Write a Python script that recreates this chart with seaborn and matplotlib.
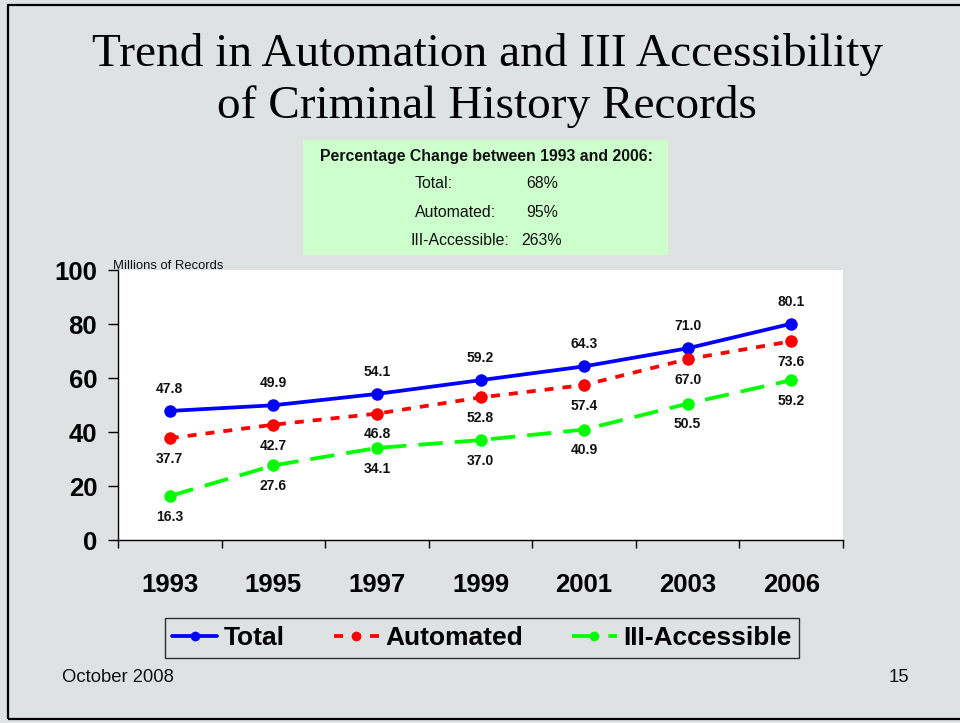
import matplotlib
matplotlib.use("Agg")
import matplotlib.pyplot as plt
from matplotlib.patches import Rectangle
import seaborn as sns
import pandas as pd

years = ["1993", "1995", "1997", "1999", "2001", "2003", "2006"]
total = [47.8, 49.9, 54.1, 59.2, 64.3, 71.0, 80.1]
automated = [37.7, 42.7, 46.8, 52.8, 57.4, 67.0, 73.6]
iii_accessible = [16.3, 27.6, 34.1, 37.0, 40.9, 50.5, 59.2]
series_names = ["Total", "Automated", "III-Accessible"]
pct_labels = ["Total:", "Automated:", "III-Accessible:"]
pct_values = ["68%", "95%", "263%"]

sns.set_theme(style="white")
plt.rcParams["font.family"] = ["Liberation Sans", "DejaVu Sans"]
plt.rcParams["text.color"] = "black"
plt.rcParams["xtick.color"] = "black"
plt.rcParams["ytick.color"] = "black"

BG = "#dfe2e3"
W, H = 960, 723
fig = plt.figure(figsize=(9.6, 7.23), dpi=100, facecolor=BG)

# slide border
fig.patches.append(Rectangle((8 / W, 4 / H), 1.2, 1 - 9 / H, transform=fig.transFigure,
                             fill=False, edgecolor="black", lw=1.6, zorder=0))

ax = fig.add_axes([118 / W, 1 - 540 / H, 725 / W, 270 / H])
ax.set_facecolor("white")

rows = []
for name, vals in zip(series_names, [total, automated, iii_accessible]):
    for i, (y, v) in enumerate(zip(years, vals)):
        rows.append({"pos": i, "Year": y, "value": v, "series": name})
df = pd.DataFrame(rows)

palette = {"Total": "#0000ff", "Automated": "#ff0000", "III-Accessible": "#00ff00"}
dashes = {"Total": "", "Automated": (2.4, 2.4), "III-Accessible": (6.5, 3.2)}
sns.lineplot(data=df, x="pos", y="value", hue="series", style="series",
             palette=palette, dashes=dashes, markers={k: "o" for k in series_names},
             markersize=9, markeredgewidth=0, linewidth=2.7, ax=ax, legend=False,
             hue_order=series_names, style_order=series_names)

# data labels
offsets = {"Total": 16, "Automated": -15, "III-Accessible": -15}
for name, vals in zip(series_names, [total, automated, iii_accessible]):
    for i, v in enumerate(vals):
        ax.annotate(f"{v:.1f}", (i, v), xytext=(0, offsets[name]), textcoords="offset points",
                    ha="center", va="center", fontsize=10, fontweight="bold", color="#111111")

ax.set_xlim(-0.5, 6.5)
ax.set_ylim(0, 100)
ax.set_yticks(range(0, 101, 20))
ax.set_xticks(range(len(years)))
ax.set_xticklabels(years)
ax.set_xticks([i - 0.5 for i in range(len(years) + 1)], minor=True)
ax.tick_params(axis="x", which="major", length=0, pad=24, labelsize=18.5)
ax.tick_params(axis="x", which="minor", length=6, width=1, direction="out", color="black", bottom=True)
ax.tick_params(axis="y", which="major", length=7, width=1, direction="out", color="black",
               pad=8, labelsize=18.5, left=True)
for lab in ax.get_xticklabels() + ax.get_yticklabels():
    lab.set_fontweight("bold")
    lab.set_color("black")
ax.set_xlabel("")
ax.set_ylabel("")
for s in ["top", "right"]:
    ax.spines[s].set_visible(False)
for s in ["left", "bottom"]:
    ax.spines[s].set_color("black")
    ax.spines[s].set_linewidth(1)

fig.text(113 / W, 1 - 266 / H, "Millions of Records", fontsize=9.4, ha="left", va="center", color="#111111")

# title
for txt, yc in [("Trend in Automation and III Accessibility", 55), ("of Criminal History Records", 107)]:
    fig.text(487 / W, 1 - yc / H, txt, fontsize=34, family=["Liberation Serif", "DejaVu Serif"],
             ha="center", va="center", color="black")

# green info box
fig.patches.append(Rectangle((303 / W, 1 - 255 / H), 365 / W, 115 / H, transform=fig.transFigure,
                             facecolor="#ccffcc", edgecolor="none", zorder=1))
fig.text(486 / W, 1 - 157 / H, "Percentage Change between 1993 and 2006:", fontsize=11.4,
         fontweight="bold", ha="center", va="center", color="#111111")
for (lab, val), yc, xl in zip(zip(pct_labels, pct_values), [184, 212, 241], [415, 415, 410]):
    fig.text(xl / W, 1 - yc / H, lab, fontsize=11.4, ha="left", va="center", color="#111111")
    fig.text(542 / W, 1 - yc / H, val, fontsize=11.4, ha="center", va="center", color="#111111")

# legend
handles = ax.get_lines()[:3]
leg = fig.legend(handles, series_names, loc="center", bbox_to_anchor=(482 / W, 1 - 638 / H),
                 ncol=3, frameon=True, fancybox=False, edgecolor="black", facecolor=BG,
                 handlelength=1.7, handletextpad=0.25, columnspacing=1.85, borderpad=0.3,
                 prop={"family": ["Liberation Sans Narrow", "Liberation Sans"], "size": 19, "weight": "bold"})
leg.get_frame().set_linewidth(1)
for h in leg.legend_handles:
    h.set_markersize(7)

fig.text(62 / W, 1 - 677 / H, "October 2008", fontsize=13.3, ha="left", va="center", color="#111111")
fig.text(899 / W, 1 - 677 / H, "15", fontsize=13.3, ha="center", va="center", color="#111111")

fig.savefig("out.png", dpi=100, facecolor=BG)
